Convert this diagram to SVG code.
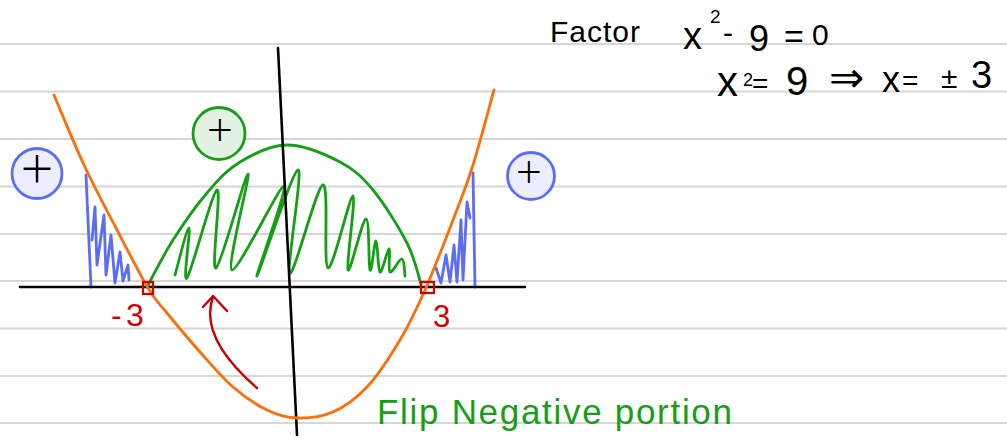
<svg xmlns="http://www.w3.org/2000/svg" width="1007" height="448" viewBox="0 0 1007 448">
<defs>
<style>
.grid{stroke:#d6d6d6;stroke-width:2}
.ink{fill:none;stroke-linecap:round;stroke-linejoin:round}
.hw{font-family:"Liberation Sans","DejaVu Sans",sans-serif}
.plus{font-family:"Open Sans","Liberation Sans",sans-serif;font-weight:300;text-anchor:middle;dominant-baseline:central;fill:#000}
</style>
</defs>
<rect width="1007" height="448" fill="#ffffff"/>
<g id="notebook-lines">
<line class="grid" x1="0" y1="44" x2="1007" y2="44"/>
<line class="grid" x1="0" y1="91.5" x2="1007" y2="91.5"/>
<line class="grid" x1="0" y1="139" x2="1007" y2="139"/>
<line class="grid" x1="0" y1="186.5" x2="1007" y2="186.5"/>
<line class="grid" x1="0" y1="234" x2="1007" y2="234"/>
<line class="grid" x1="0" y1="281" x2="1007" y2="281"/>
<line class="grid" x1="0" y1="328.5" x2="1007" y2="328.5"/>
<line class="grid" x1="0" y1="376" x2="1007" y2="376"/>
<line class="grid" x1="0" y1="423" x2="1007" y2="423"/>
</g>
<g id="blue-hatch" class="ink" stroke="#5b6cf6" stroke-width="2.8">
<line x1="86" y1="175" x2="91" y2="287"/>
<polyline points="92,240 95,207 97,265 104,215 106,275 111,235 115,283 120,252 123,281 128,265 129,280"/>
<line x1="473" y1="173" x2="475" y2="287"/>
<polyline points="436,268 441,283 446,255 450,282 454,245 457,282 461,220 463,280 467,202 470,218"/>
</g>
<g id="green-region" class="ink" stroke="#14a014" stroke-width="2.8">
<path d="M147,287 C151.3,279.2 163,255.7 173,240 C183,224.3 195.8,206 207,193 C218.2,180 226.7,170 240,162 C253.3,154 270.3,145 287,145 C303.7,145 325.7,154.5 340,162 C354.3,169.5 361.8,176.5 373,190 C384.2,203.5 399,227.3 407,243 C415,258.7 418.7,277.2 421,284"/>
<path d="M175,275 C177.3,267.2 187,227.5 189,228 C191,228.5 182.3,284.3 187,278 C191.7,271.7 212.2,191.7 217,190 C221.8,188.3 210.8,270.7 216,268 C221.2,265.3 245.3,173.7 248,174 C250.7,174.3 226,268 232,270 C238,272 279.8,185 284,186 C288.2,187 254.7,278.7 257,276 C259.3,273.3 292.5,170.5 298,170 C303.5,169.5 285.8,270.5 290,273 C294.2,275.5 316.7,185.8 323,185 C329.3,184.2 323,266.2 328,268 C333,269.8 349.7,195.7 353,196 C356.3,196.3 345.8,266.2 348,270 C350.2,273.8 362.3,219 366,219 C369.7,219 368.3,266.3 370,270 C371.7,273.7 374.3,240.7 376,241 C377.7,241.3 377.8,270.7 380,272 C382.2,273.3 387.3,249 389,249 C390.7,249 387.8,270.3 390,272 C392.2,273.7 399.5,258.3 402,259 C404.5,259.7 404.5,273.2 405,276"/>
</g>
<g id="axes" class="ink" stroke="#000" stroke-width="2.6">
<line x1="20" y1="287" x2="525" y2="287"/>
<line x1="278" y1="48" x2="297" y2="435"/>
</g>
<g id="parabola" class="ink" stroke="#ff6d0a" stroke-width="2.8">
<path d="M54,95 C59,106.7 73.8,143.2 84,165 C94.2,186.8 104.3,205.5 115,226 C125.7,246.5 139.3,273.5 148,288 C156.7,302.5 158.3,302.3 167,313 C175.7,323.7 189,339.7 200,352 C211,364.3 221.8,377.3 233,387 C244.2,396.7 256.3,404.8 267,410 C277.7,415.2 286,417.7 297,418 C308,418.3 321.3,417.2 333,412 C344.7,406.8 355.8,399 367,387 C378.2,375 390.3,356.2 400,340 C409.7,323.8 416.2,310 425,290 C433.8,270 445,240.8 453,220 C461,199.2 466.2,186.7 473,165 C479.8,143.3 490.5,102.5 494,90"/>
</g>
<g id="roots" fill="none" stroke="#d40000" stroke-width="2.2">
<rect x="143" y="282" width="10" height="12"/>
<rect x="421" y="282" width="13" height="11"/>
</g>
<g id="flip-arrow" class="ink" stroke="#c80000" stroke-width="2.4">
<path d="M257,388 Q198.4,337.5 213,297"/>
<polyline points="203,307 213,296 227,311"/>
</g>
<g id="sign-left">
<circle cx="37" cy="173.5" r="25" fill="#eceefd" stroke="#5b6cf6" stroke-width="2.8"/>
<text class="plus" x="37" y="167" font-size="58">+</text>
</g>
<g id="sign-middle">
<circle cx="219" cy="133.5" r="26" fill="#e4f2e4" stroke="#14a014" stroke-width="2.8"/>
<text class="plus" x="220" y="128" font-size="46">+</text>
</g>
<g id="sign-right">
<circle cx="531" cy="176" r="23.5" fill="#eceefd" stroke="#5b6cf6" stroke-width="2.8"/>
<text class="plus" x="529" y="170" font-size="46">+</text>
</g>
<g id="root-labels" class="hw" fill="#d40000">
<text x="111" y="326" font-size="32">-<tspan x="126">3</tspan></text>
<text x="433" y="327" font-size="31">3</text>
</g>
<g id="equations" class="hw" fill="#000">
<text x="550" y="42" font-size="30" letter-spacing="1">Factor</text>
<text x="683" y="49" font-size="38">x</text>
<text x="710" y="23" font-size="19">2</text>
<text x="723" y="43" font-size="30">-</text>
<text x="749" y="51" font-size="36">9</text>
<text x="784" y="48" font-size="34">=</text>
<text x="812" y="45" font-size="30">0</text>
<text x="717" y="96" font-size="42">x</text>
<text x="743" y="86" font-size="18">2</text>
<text x="752" y="93" font-size="28">=</text>
<text x="786" y="95" font-size="40">9</text>
<text x="829" y="92" font-size="42" font-family="DejaVu Sans, sans-serif">⇒</text>
<text x="882" y="92" font-size="36">x</text>
<text x="902" y="90" font-size="28">=</text>
<text x="941" y="88" font-size="30">±</text>
<text x="971" y="88" font-size="38">3</text>
</g>
<g id="caption" class="hw" fill="#14a014">
<text x="377" y="424" font-size="35" textLength="355" lengthAdjust="spacing">Flip Negative portion</text>
</g>
</svg>
